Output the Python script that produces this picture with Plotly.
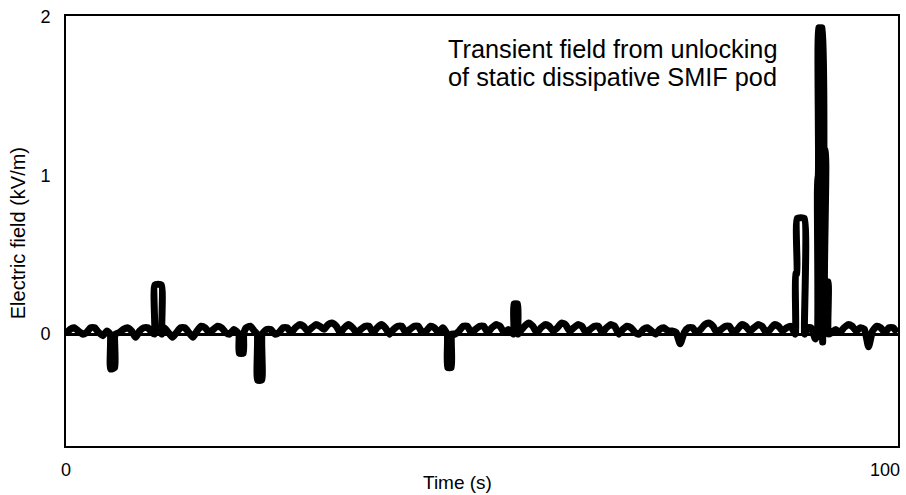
import numpy as np
import plotly.graph_objects as go

# Background noise of the trace, sampled every 0.5 s (kV/m)
noise = [
    0.00, 0.03, 0.04, 0.02, 0.00, 0.01, 0.04, 0.04, 0.01, -0.01, 0.02, 0.04, 0.03, 0.01, 0.03, 0.04, 0.02, -0.02, 0.02, 0.04,
    0.04, 0.01, 0.02, 0.04, 0.04, 0.01, -0.02, 0.01, 0.04, 0.04, 0.01, -0.02, 0.02, 0.05, 0.04, 0.01, 0.03, 0.05, 0.04, 0.01,
    0.00, 0.03, -0.03, 0.02, 0.04, 0.05, 0.02, -0.04, 0.01, 0.03, 0.03, 0.00, 0.01, 0.04, 0.04, 0.01, 0.04, 0.06, 0.05, 0.02,
    0.04, 0.06, 0.05, 0.03, 0.06, 0.07, 0.05, 0.01, 0.04, 0.06, 0.04, 0.01, 0.03, 0.05, 0.05, 0.01, 0.04, 0.06, 0.04, 0.00,
    0.03, 0.05, 0.05, 0.01, 0.03, 0.05, 0.05, 0.01, 0.02, 0.05, 0.04, 0.01, 0.04, 0.06, 0.04, 0.00, 0.02, 0.05, 0.05, 0.01,
    0.03, 0.05, 0.05, 0.01, 0.04, 0.06, 0.05, 0.01, 0.03, 0.05, 0.05, 0.02, 0.05, 0.07, 0.05, 0.01, 0.04, 0.06, 0.05, 0.02,
    0.04, 0.07, 0.06, 0.02, 0.04, 0.06, 0.05, 0.01, 0.03, 0.05, 0.05, 0.01, 0.04, 0.06, 0.05, 0.00, 0.03, 0.05, 0.04, 0.01,
    0.00, 0.03, 0.04, 0.02, 0.00, 0.03, 0.04, 0.02, 0.02, 0.01, -0.06, 0.01, 0.04, 0.04, 0.01, 0.03, 0.06, 0.07, 0.05, 0.01,
    0.03, 0.05, 0.05, 0.01, 0.03, 0.06, 0.05, 0.02, 0.04, 0.06, 0.05, 0.01, 0.03, 0.06, 0.05, 0.02, 0.04, 0.05, 0.04, 0.01,
    0.02, 0.04, 0.04, -0.03, 0.02, 0.05, 0.05, 0.01, 0.03, 0.01, 0.04, 0.06, 0.05, 0.02, 0.04, 0.03, -0.08, 0.02, 0.05, 0.04,
    0.01, 0.04, 0.04, 0.01,
]
noise_step = 0.5

# Transient events (time in s, field in kV/m)
events = [
    ([5.4, 5.45, 5.95, 6.0], [0.0, -0.22, -0.21, 0.0]),
    ([10.8, 10.85, 11.65, 11.7], [0.0, 0.31, 0.31, 0.0]),
    ([21.1, 21.15, 21.65, 21.7], [0.0, -0.12, -0.12, 0.0]),
    ([23.35, 23.4, 23.9, 23.95], [0.0, -0.29, -0.29, 0.0]),
    ([46.55, 46.6, 47.05, 47.1], [0.0, -0.21, -0.21, 0.0]),
    ([54.65, 54.7, 55.15, 55.2], [0.0, 0.19, 0.19, 0.0]),
    ([89.05, 89.1, 89.25, 89.3, 90.15, 90.2], [0.0, 0.38, 0.38, 0.73, 0.73, 0.0]),
    ([91.75, 91.8, 91.85, 91.9, 92.0, 92.05, 92.1, 92.35, 92.4, 92.45, 92.7, 92.75,
      93.05, 93.1],
     [0.0, 0.99, 0.99, 1.93, 1.93, 0.9, 1.93, 1.93, -0.05, 1.16, 1.16, 0.33,
      0.33, 0.0]),
]

x_ticks = [0, 100]
y_ticks = [0, 1, 2]
label_lines = ["Transient field from unlocking", "of static dissipative SMIF pod"]

# Build the trace: noise outside events, event shapes inside
t_noise = np.arange(len(noise)) * noise_step
pts = []
for t, v in zip(t_noise, noise):
    if not any(ev[0][0] - 0.2 <= t <= ev[0][-1] + 0.2 for ev in events):
        pts.append((t, v))
for ts, vs in events:
    pts.extend(zip(ts, vs))
pts.sort(key=lambda p: p[0])
tx = [p[0] for p in pts]
ty = [p[1] for p in pts]

fig = go.Figure()
fig.add_trace(go.Scatter(x=tx, y=ty, mode="lines",
                         line=dict(color="black", width=7, simplify=False,
                                   shape="spline", smoothing=0.5),
                         hoverinfo="skip", showlegend=False))

font_family = "Liberation Sans, Arial, sans-serif"
narrow_family = "Liberation Sans Narrow, Liberation Sans, Arial, sans-serif"

fig.update_layout(
    width=906, height=495,
    margin=dict(l=66, r=6, t=16, b=49),
    paper_bgcolor="white", plot_bgcolor="white",
    showlegend=False,
    font=dict(family=font_family, color="black"),
    xaxis=dict(range=[0, 101.6], tickvals=x_ticks, showgrid=False, zeroline=False,
               showline=True, linecolor="black", linewidth=2, mirror=True,
               ticks="outside", ticklen=6, tickcolor="rgba(0,0,0,0)",
               tickfont=dict(size=18, family=font_family)),
    yaxis=dict(range=[-0.705, 2.005], tickvals=y_ticks, showgrid=False,
               zeroline=True, zerolinecolor="black", zerolinewidth=3,
               showline=True, linecolor="black", linewidth=2, mirror=True,
               ticks="outside", ticklen=10, tickcolor="rgba(0,0,0,0)",
               tickfont=dict(size=18, family=font_family)),
    annotations=[
        dict(text=label_lines[0], xref="paper", yref="paper", x=0.457, y=0.923,
             xanchor="left", yanchor="middle", align="left", showarrow=False,
             font=dict(size=25.3, family=font_family, color="black")),
        dict(text=label_lines[1], xref="paper", yref="paper", x=0.457, y=0.858,
             xanchor="left", yanchor="middle", align="left", showarrow=False,
             font=dict(size=25.3, family=font_family, color="black")),
        dict(text="Time (s)", xref="paper", yref="paper", x=0.470, y=-0.086,
             xanchor="center", yanchor="middle", showarrow=False,
             font=dict(size=19, family=narrow_family, color="black")),
        dict(text="Electric field (kV/m)", xref="paper", yref="paper", x=-0.0576, y=0.495,
             xanchor="center", yanchor="middle", textangle=-90, showarrow=False,
             font=dict(size=20, family=font_family, color="black")),
    ],
)

fig.write_html("out.html")
